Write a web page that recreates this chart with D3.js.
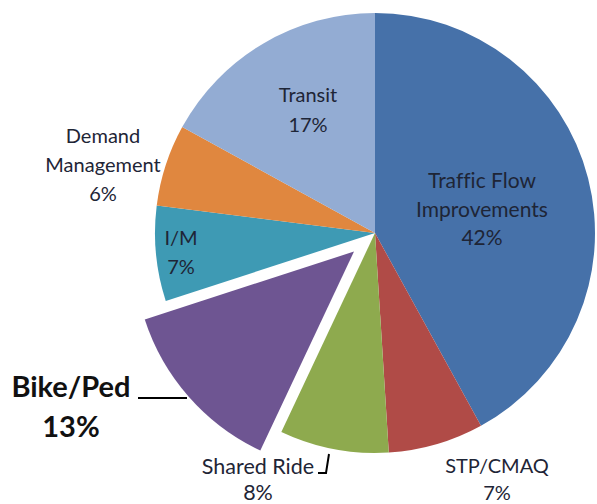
<!DOCTYPE html>
<html>
<head>
<meta charset="utf-8">
<script src="https://cdn.jsdelivr.net/npm/d3@7"></script>
<style>
  html, body { margin: 0; padding: 0; background: #fff; }
  svg { display: block; }
  text { font-variant-ligatures: none; font-feature-settings: "liga" 0; }
</style>
</head>
<body>
<svg id="chart" width="597" height="504"></svg>
<script>
// ---- data ----
const categories = ["Traffic Flow Improvements", "STP/CMAQ", "Shared Ride", "Bike/Ped", "I/M", "Demand Management", "Transit"];
const values = [42, 7, 8, 13, 7, 6, 17];
const labelLines = [
  ["Traffic Flow", "Improvements", "42%"],
  ["STP/CMAQ", "7%"],
  ["Shared Ride", "8%"],
  ["Bike/Ped", "13%"],
  ["I/M", "7%"],
  ["Demand", "Management", "6%"],
  ["Transit", "17%"]
];
const colors = ["#4671a9", "#b04b47", "#8eaa4e", "#6e5592", "#3e9ab4", "#e0873f", "#93acd3"];
const exploded = "Bike/Ped";

// ---- layout ----
const cx = 375, cy = 233, R = 220, explodeOffset = 28;
const labelLayout = [
  {x: 482, y: 188, lh: 28.5, size: 21, weight: 400},
  {x: 497, y: 473, lh: 27, size: 20, weight: 400},
  {x: 258, y: 474, lh: 26, size: 21.5, weight: 400},
  {x: 71,  y: 397, lh: 40, size: 29, weight: 700},
  {x: 181, y: 245, lh: 29, size: 20, weight: 400},
  {x: 103, y: 143, lh: 29, size: 20, weight: 400},
  {x: 308, y: 102, lh: 30, size: 20, weight: 400}
];

const svg = d3.select("#chart");
const g = svg.append("g").attr("transform", `translate(${cx},${cy})`);

const pie = d3.pie().sort(null).value(d => d.value).startAngle(0).endAngle(2 * Math.PI);
const arc = d3.arc().innerRadius(0).outerRadius(R);

const data = categories.map((c, i) => ({name: c, value: values[i], color: colors[i], short: labelLines[i][0]}));
const arcs = pie(data);

g.selectAll("path.slice")
  .data(arcs)
  .join("path")
  .attr("class", "slice")
  .attr("d", arc)
  .attr("fill", d => d.data.color)
  .attr("transform", d => {
    if (d.data.short !== exploded) return null;
    const a = (d.startAngle + d.endAngle) / 2;
    return `translate(${Math.sin(a) * explodeOffset},${-Math.cos(a) * explodeOffset})`;
  });

// labels
const fontFamily = "Lato, 'Open Sans', sans-serif";
labelLines.forEach((lines, i) => {
  const L = labelLayout[i];
  const t = svg.append("text")
    .attr("text-anchor", "middle")
    .attr("font-family", fontFamily)
    .attr("font-size", L.size)
    .attr("font-weight", L.weight)
    .attr("fill", L.weight === 700 ? "#111" : "#1e2536");
  lines.forEach((ln, j) => {
    t.append("tspan").attr("x", L.x).attr("y", L.y + j * L.lh).text(ln);
  });
});

// leader lines
const leaders = [
  [[138, 398], [187, 398]],
  [[318, 473], [326, 473], [329, 454]]
];
leaders.forEach(pts => {
  svg.append("path")
    .attr("d", d3.line()(pts))
    .attr("fill", "none")
    .attr("stroke", "#000")
    .attr("stroke-width", 2);
});
</script>
</body>
</html>
